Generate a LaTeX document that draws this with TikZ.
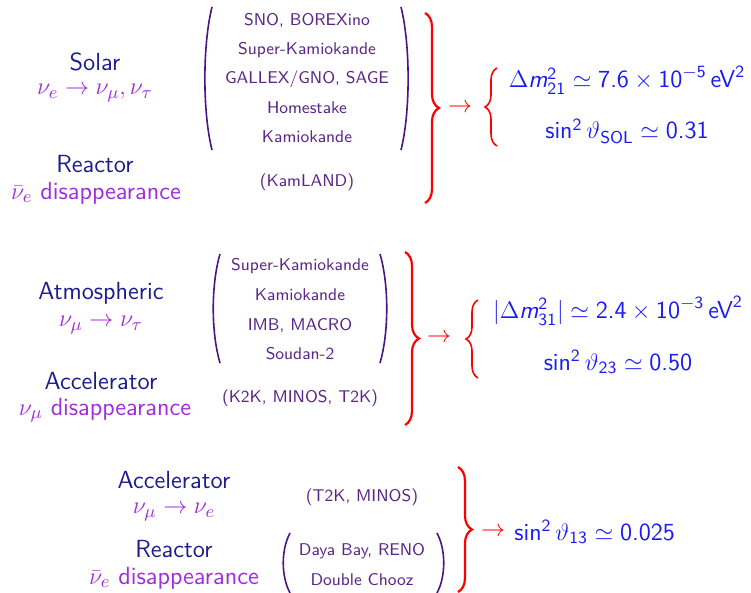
\documentclass[tikz,border=0pt]{standalone}
\usepackage{amsmath,amssymb}
\usepackage{xcolor}
\usepackage{tikz}
\usetikzlibrary{decorations.pathreplacing}
\definecolor{headnavy}{HTML}{1C1C8C}
\definecolor{chanviolet}{HTML}{A22BDC}
\definecolor{exptpurple}{HTML}{5A2688}
\definecolor{parenindigo}{HTML}{4A1486}
\definecolor{resblue}{HTML}{1A1AF5}
\tikzset{
    source/.style={font=\sffamily\fontsize{12.4}{14}\selectfont, text=headnavy, inner sep=0pt},
    channel/.style={font=\sffamily\fontsize{12.4}{14}\selectfont, text=chanviolet, inner sep=0pt},
    expt/.style={font=\sffamily\fontsize{8.5}{10}\selectfont, text=exptpurple, inner sep=0pt},
    result/.style={font=\sffamily\fontsize{12.3}{14}\selectfont, text=resblue, inner sep=0pt},
    implies/.style={font=\fontsize{12}{14}\selectfont, text=red, inner sep=0pt},
    paren/.style={draw=parenindigo, line width=0.8pt},
    bigbrace/.style={draw=red, line width=1.1pt, decorate,
        decoration={brace, amplitude=7pt}},
    smallbrace/.style={draw=red, line width=0.8pt, decorate,
        decoration={brace, amplitude=6pt}}
}

\begin{document}
\begin{tikzpicture}[x=0.5pt,y=-0.5pt]
        \useasboundingbox (0,0) rectangle (751,593);
        % solar and reactor
        \node[source] at (95,62) (solar) {Solar};
        \node[channel] at (95,93) (solarch) {$\nu_e \rightarrow \nu_\mu , \nu_\tau$};
        \node[source] at (95,164) (reactor) {Reactor};
        \node[channel] at (96,193) (reactorch) {$\bar\nu_e$ disappearance};
        \node[expt] at (307,20) (sno) {SNO, BOREXino};
        \node[expt] at (307,50) (superk) {Super-Kamiokande};
        \node[expt] at (307,79) (gallex) {GALLEX/GNO, SAGE};
        \node[expt] at (307,108) (homestake) {Homestake};
        \node[expt] at (307,137) (kamioka) {Kamiokande};
        \node[expt] at (307,182) (kamland) {(KamLAND)};
        \draw[paren] (212,7) .. controls (202.5,45) and (202.5,112) .. (212,150);
        \draw[paren] (401,7) .. controls (410.5,45) and (410.5,112) .. (401,150);
        \draw[bigbrace] (425,13) -- (425,203);
        \node[implies] at (460,108) (solarto) {$\rightarrow$};
        \draw[smallbrace] (497,146) -- (497,68);
        \node[result] at (627,80) (dm21) {$\Delta\textit{m}^{\text{2}}_{\text{21}} \simeq \text{7.6} \times \text{10}^{-\text{5}}\,\text{eV}^{\text{2}}$};
        \node[result] at (627,131) (th12) {sin$^{\text{2}}\,\vartheta_{\text{SOL}} \simeq \text{0.31}$};
        % atmospheric and accelerator
        \node[source] at (101,293) (atmo) {Atmospheric};
        \node[channel] at (101,325) (atmoch) {$\nu_\mu \rightarrow \nu_\tau$};
        \node[source] at (101,381) (accel) {Accelerator};
        \node[channel] at (105,410) (accelch) {$\nu_\mu$ disappearance};
        \node[expt] at (300,266) (superk2) {Super-Kamiokande};
        \node[expt] at (300,295) (kamioka2) {Kamiokande};
        \node[expt] at (300,325) (imb) {IMB, MACRO};
        \node[expt] at (300,354) (soudan) {Soudan-2};
        \node[expt] at (300,398) (ktok) {(K2K, MINOS, T2K)};
        \draw[paren] (220,254) .. controls (211,285) and (211,332) .. (220,363);
        \draw[paren] (380,254) .. controls (389,285) and (389,332) .. (380,363);
        \draw[bigbrace] (405,252) -- (405,425);
        \node[implies] at (439,338) (atmoto) {$\rightarrow$};
        \draw[smallbrace] (478,378) -- (478,300);
        \node[result] at (618,311) (dm31) {$|\Delta\textit{m}^{\text{2}}_{\text{31}}| \simeq \text{2.4} \times \text{10}^{-\text{3}}\,\text{eV}^{\text{2}}$};
        \node[result] at (618,362) (th23) {sin$^{\text{2}}\,\vartheta_{\text{23}} \simeq \text{0.50}$};
        % theta13
        \node[source] at (174,480) (accel3) {Accelerator};
        \node[channel] at (174,512) (accel3ch) {$\nu_\mu \rightarrow \nu_e$};
        \node[source] at (174,549) (reactor3) {Reactor};
        \node[channel] at (174,578) (reactor3ch) {$\bar\nu_e$ disappearance};
        \node[expt] at (362,497) (t2k) {(T2K, MINOS)};
        \node[expt] at (362,551) (dayabay) {Daya Bay, RENO};
        \node[expt] at (362,580) (chooz) {Double Chooz};
        \draw[paren] (290,533) .. controls (281,550) and (281,576) .. (290,593);
        \draw[paren] (437,533) .. controls (446,550) and (446,576) .. (437,593);
        \draw[bigbrace] (458,467) -- (458,592);
        \node[implies] at (493,532) (thto) {$\rightarrow$};
        \node[result, anchor=west] at (514,532) (th13) {sin$^{\text{2}}\,\vartheta_{\text{13}} \simeq \text{0.025}$};
\end{tikzpicture}
\end{document}
